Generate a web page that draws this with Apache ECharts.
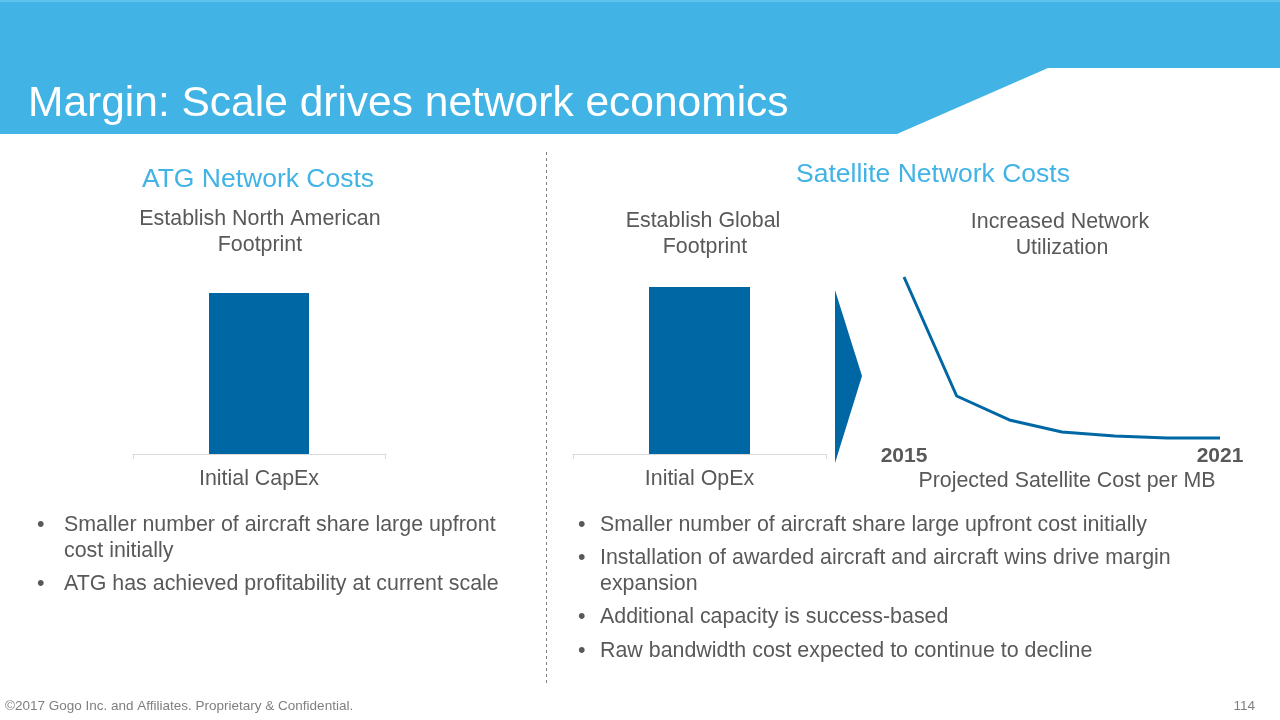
<!DOCTYPE html>
<html><head><meta charset="utf-8">
<script src="https://cdn.jsdelivr.net/npm/echarts@6/dist/echarts.min.js"></script>
<style>html,body{margin:0;padding:0;background:#fff}#c{width:1280px;height:720px}</style>
</head><body><div id="c"></div>
<script>
// ---- data ----
var capexCategories = ['Initial CapEx'];
var capexValues = [87.5];
var opexCategories = ['Initial OpEx'];
var opexValues = [90.8];
var satYears = ['2015','2016','2017','2018','2019','2020','2021'];
var satCost = [96, 28, 14.3, 7.4, 5.1, 4.0, 4.0];

var BLUE = '#0067A5', LIGHT = '#41B3E5', GRAY = '#595959';
var FONT = '"Liberation Sans", Arial, sans-serif';
var BODY = 21.4, HEAD = 26.5;

function txt(x, y, s, size, color, align, weight) {
  return {type:'text', x:x, y:y, style:{text:s, fontSize:size, fill:color, fontFamily:FONT,
    align:align||'left', verticalAlign:'middle', fontWeight:weight||'normal'}};
}

var chart = echarts.init(document.getElementById('c'), null, {renderer:'canvas'});

var graphics = [
  {type:'polygon', shape:{points:[[0,0],[1280,0],[1280,68],[1048,68],[897,134],[0,134]]}, style:{fill:LIGHT}},
  {type:'rect', shape:{x:0,y:0,width:1280,height:2}, style:{fill:'#5EC3EC'}},
  txt(28, 104, 'Margin: Scale drives network economics', 42.5, '#ffffff'),
  txt(258, 180, 'ATG Network Costs', HEAD, LIGHT, 'center'),
  txt(260, 219, 'Establish North American', BODY, GRAY, 'center'),
  txt(260, 245, 'Footprint', BODY, GRAY, 'center'),
  txt(933, 175, 'Satellite Network Costs', HEAD, LIGHT, 'center'),
  txt(703, 221, 'Establish Global', BODY, GRAY, 'center'),
  txt(705, 247, 'Footprint', BODY, GRAY, 'center'),
  txt(1060, 222, 'Increased Network', BODY, GRAY, 'center'),
  txt(1062, 248, 'Utilization', BODY, GRAY, 'center'),
  {type:'line', shape:{x1:546.5,y1:152,x2:546.5,y2:685}, style:{stroke:'#7f7f7f', lineWidth:1, lineDash:[3,3]}},
  {type:'polygon', shape:{points:[[835,290],[862,376],[835,463]]}, style:{fill:BLUE}},
  txt(1067, 481, 'Projected Satellite Cost per MB', BODY, GRAY, 'center'),
  // left bullets
  txt(37, 525, '•', BODY, GRAY), txt(64, 525, 'Smaller number of aircraft share large upfront', BODY, GRAY),
  txt(64, 551, 'cost initially', BODY, GRAY),
  txt(37, 584, '•', BODY, GRAY), txt(64, 584, 'ATG has achieved profitability at current scale', BODY, GRAY),
  // right bullets
  txt(578, 525, '•', BODY, GRAY), txt(600, 525, 'Smaller number of aircraft share large upfront cost initially', BODY, GRAY),
  txt(578, 558, '•', BODY, GRAY), txt(600, 558, 'Installation of awarded aircraft and aircraft wins drive margin', BODY, GRAY),
  txt(600, 584, 'expansion', BODY, GRAY),
  txt(578, 617, '•', BODY, GRAY), txt(600, 617, 'Additional capacity is success-based', BODY, GRAY),
  txt(578, 651, '•', BODY, GRAY), txt(600, 651, 'Raw bandwidth cost expected to continue to decline', BODY, GRAY),
  txt(5, 706, '©2017 Gogo Inc. and Affiliates. Proprietary & Confidential.', 13.5, '#7f7f7f'),
  txt(1255, 706, '114', 13.5, '#7f7f7f', 'right')
];

function catAxis(idx, data) {
  return {type:'category', gridIndex:idx, data:data,
    axisLine:{lineStyle:{color:'#d9d9d9'}}, axisTick:{show:true, length:5, lineStyle:{color:'#d9d9d9'}},
    axisLabel:{fontSize:BODY, color:GRAY, fontFamily:FONT, margin:15}};
}
function valAxis(idx) {
  return {type:'value', gridIndex:idx, min:0, max:100, show:false, splitLine:{show:false}};
}

chart.setOption({
  animation:false,
  graphic:graphics,
  grid:[
    {left:133, right:1280-385, top:270, bottom:720-454},
    {left:573, right:1280-826, top:270, bottom:720-454},
    {left:904, right:1280-1220, top:270, bottom:720-445}
  ],
  xAxis:[
    catAxis(0, capexCategories),
    catAxis(1, opexCategories),
    {type:'category', gridIndex:2, data:satYears, boundaryGap:false,
      axisLine:{show:false}, axisTick:{show:false},
      axisLabel:{fontSize:21, fontWeight:'bold', color:GRAY, fontFamily:FONT, margin:1,
        interval:function(i){return i===0 || i===satYears.length-1;}}}
  ],
  yAxis:[valAxis(0), valAxis(1), valAxis(2)],
  series:[
    {type:'bar', xAxisIndex:0, yAxisIndex:0, data:capexValues, barWidth:100, itemStyle:{color:BLUE}},
    {type:'bar', xAxisIndex:1, yAxisIndex:1, data:opexValues, barWidth:101, itemStyle:{color:BLUE}},
    {type:'line', xAxisIndex:2, yAxisIndex:2, data:satCost, symbol:'none', lineStyle:{color:BLUE, width:3}}
  ]
});
</script></body></html>
